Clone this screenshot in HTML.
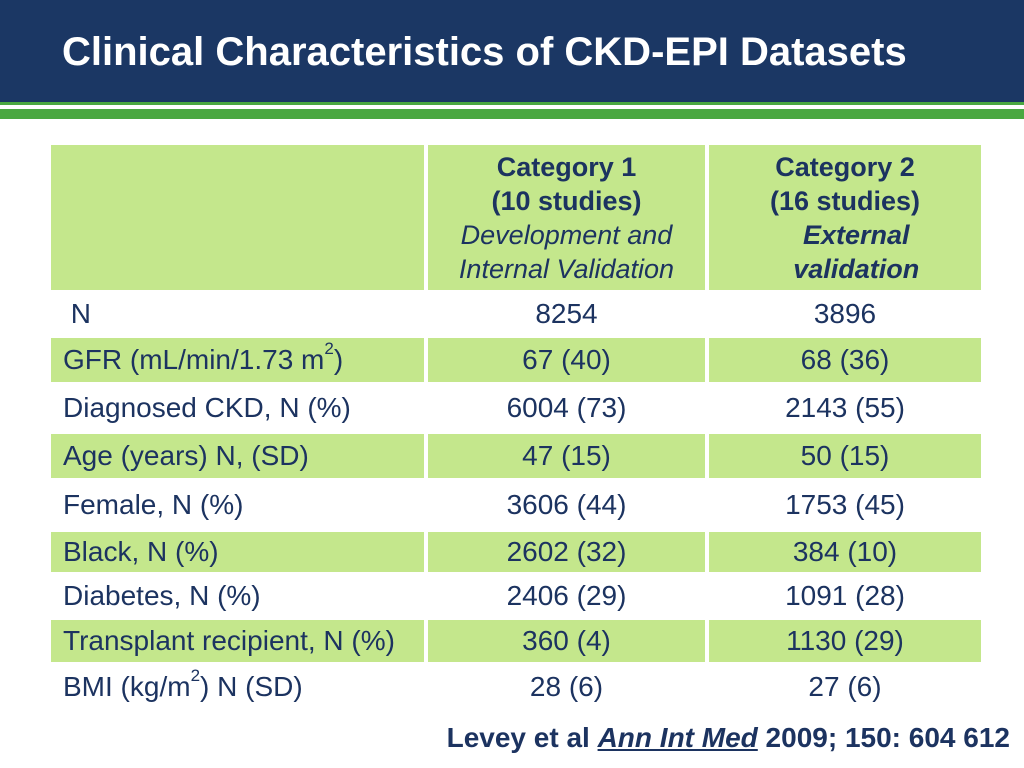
<!DOCTYPE html>
<html><head><meta charset="utf-8"><style>
body{margin:0;width:1024px;height:768px;background:#fff;font-family:"Liberation Sans",Arial,Helvetica,sans-serif;position:relative;overflow:hidden}
.hdr{position:absolute;left:0;top:0;width:1024px;height:102px;background:#1b3764}
.hdr h1{margin:0;position:absolute;left:62px;top:30px;color:#fff;font-size:40px;font-weight:bold;white-space:nowrap}
.g1{position:absolute;left:0;top:102px;width:1024px;height:3px;background:#4aa841}
.g2{position:absolute;left:0;top:109px;width:1024px;height:10px;background:#4aa841}
.c{position:absolute;color:#1c3360;font-size:28px;box-sizing:border-box;display:flex;align-items:center;white-space:nowrap}
.g{background:#c4e78c}
.hd{font-size:27px}
sup{font-size:17px;position:relative;top:-11px;vertical-align:baseline}
.cite{position:absolute;right:14px;top:722px;font-size:28px;font-weight:bold;color:#1c3360;white-space:nowrap}
</style></head><body>
<div class="hdr"><h1>Clinical Characteristics of CKD-EPI Datasets</h1></div>
<div class="g1"></div>
<div class="g2"></div>
<div id="tbl"></div>
<div class="cite">Levey et al <u><i>Ann Int Med</i></u> 2009; 150: 604 612</div>
<script>
const labels=["&nbsp;N","GFR (mL/min/1.73 m<sup>2</sup>)","Diagnosed CKD, N (%)","Age (years) N, (SD)","Female, N (%)","Black, N (%)","Diabetes, N (%)","Transplant recipient, N (%)","BMI (kg/m<sup>2</sup>) N (SD)"];
const cat1=["8254","67 (40)","6004 (73)","47 (15)","3606 (44)","2602 (32)","2406 (29)","360 (4)","28 (6)"];
const cat2=["3896","68 (36)","2143 (55)","50 (15)","1753 (45)","384 (10)","1091 (28)","1130 (29)","27 (6)"];
const rowTops=[292,336,384,432,480,530,574,618,664,710];
const cols=[[51,424],[428,705],[709,981]];
const t=document.getElementById('tbl');
function cell(x0,x1,y0,y1,html,green,align,name,cls){
 const d=document.createElement('div');
 d.className='c'+(green?' g':'')+(cls?' '+cls:'');
 d.style.left=x0+'px';d.style.top=y0+'px';d.style.width=(x1-x0)+'px';d.style.height=(y1-y0)+'px';
 d.style.justifyContent=align;d.style.paddingLeft=align==='flex-start'?'12px':'0';
 d.innerHTML=html;
 
 
 t.appendChild(d);
}
cell(51,424,145,290,'',true,'center','header-blank');
cell(428,705,145,290,'<div style="text-align:center;line-height:34px"><b>Category 1<br>(10 studies)</b><br><i>Development and<br>Internal Validation</i></div>',true,'center','header-category-1','hd');
cell(709,981,145,290,'<div style="text-align:center;line-height:34px"><b>Category 2<br>(16 studies)</b><br><b><i>&nbsp;&nbsp;&nbsp;External<br>&nbsp;&nbsp;&nbsp;validation</i></b></div>',true,'center','header-category-2','hd');
for(let i=0;i<labels.length;i++){
 const g=i%2===1;
 const y0=rowTops[i]+(g?2:0),y1=rowTops[i+1]-(g?2:0);
 cell(cols[0][0],cols[0][1],y0,y1,labels[i],g,'flex-start','row-label');
 cell(cols[1][0],cols[1][1],y0,y1,cat1[i],g,'center','category-1-value');
 cell(cols[2][0],cols[2][1],y0,y1,cat2[i],g,'center','category-2-value');
}
</script>
</body></html>
